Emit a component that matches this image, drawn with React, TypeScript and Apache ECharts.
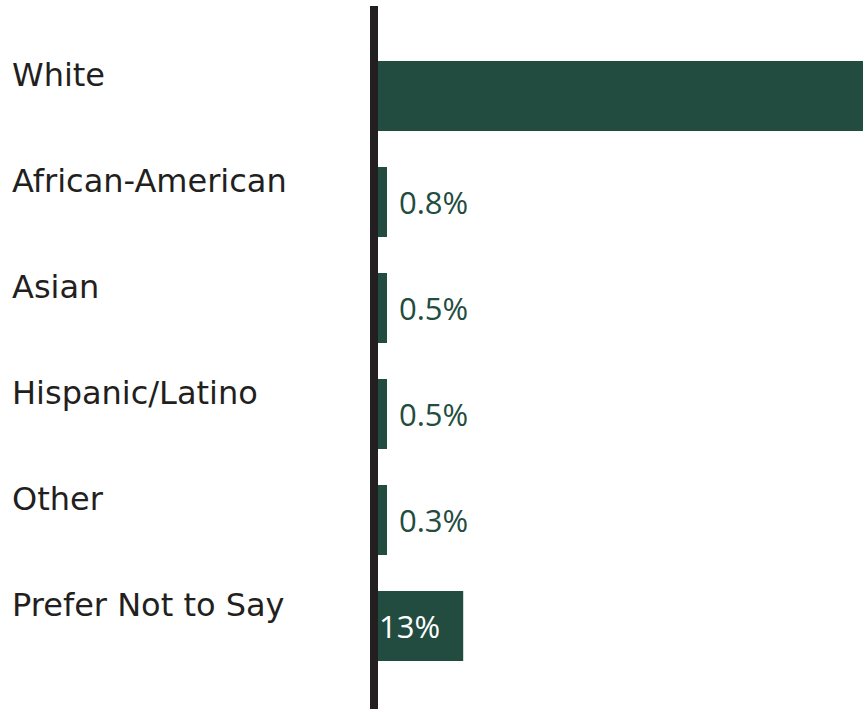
import React, { useEffect, useRef } from "react";
import * as echarts from "echarts";

const categories = ["White", "African-American", "Asian", "Hispanic/Latino", "Other", "Prefer Not to Say"];
const values = [74, 0.8, 0.5, 0.5, 0.3, 13];
const valueLabels = ["", "0.8%", "0.5%", "0.5%", "0.3%", "13%"];
const labelInside = [false, false, false, false, false, true];

const BAR = "#234c40";
const INK = "#231f20";
const CAT_FONT = "'DejaVu Sans', sans-serif";
const VAL_FONT = "'Open Sans', 'Noto Sans', sans-serif";

export default function App() {
  const ref = useRef<HTMLDivElement>(null);
  useEffect(() => {
    if (!ref.current) return;
    const chart = echarts.init(ref.current, undefined, { renderer: "svg" });
    chart.setOption({
      animation: false,
      grid: { left: 378, right: 3, top: 43, bottom: 30, containLabel: false },
      xAxis: { type: "value", min: 0, max: 74, show: false },
      yAxis: {
        type: "category",
        data: categories,
        inverse: true,
        axisLine: { show: false },
        axisTick: { show: false },
        splitLine: { show: false },
        axisLabel: {
          align: "left",
          margin: 366,
          color: INK,
          fontFamily: CAT_FONT,
          fontSize: 32,
          lineHeight: 42,
          verticalAlign: "middle",
          formatter: (v: string) => v + "\n ",
        },
      },
      graphic: [
        { type: "rect", shape: { x: 370, y: 6, width: 8, height: 703 }, style: { fill: INK }, z: 10 },
      ],
      series: [
        {
          type: "bar",
          barWidth: 70,
          barMinHeight: 9,
          clip: false,
          itemStyle: { color: BAR },
          data: values.map((v, i) => ({
            value: v,
            label: {
              show: valueLabels[i] !== "",
              formatter: valueLabels[i],
              position: labelInside[i] ? "insideLeft" : "right",
              distance: labelInside[i] ? 1 : 12,
              color: labelInside[i] ? "#ffffff" : BAR,
              fontFamily: VAL_FONT,
              fontSize: 31,
            },
          })),
        },
      ],
    });
    return () => chart.dispose();
  }, []);
  return (
    <div ref={ref} style={{ position: "fixed", left: 0, top: 0, width: 866, height: 709, background: "#fff" }} />
  );
}
